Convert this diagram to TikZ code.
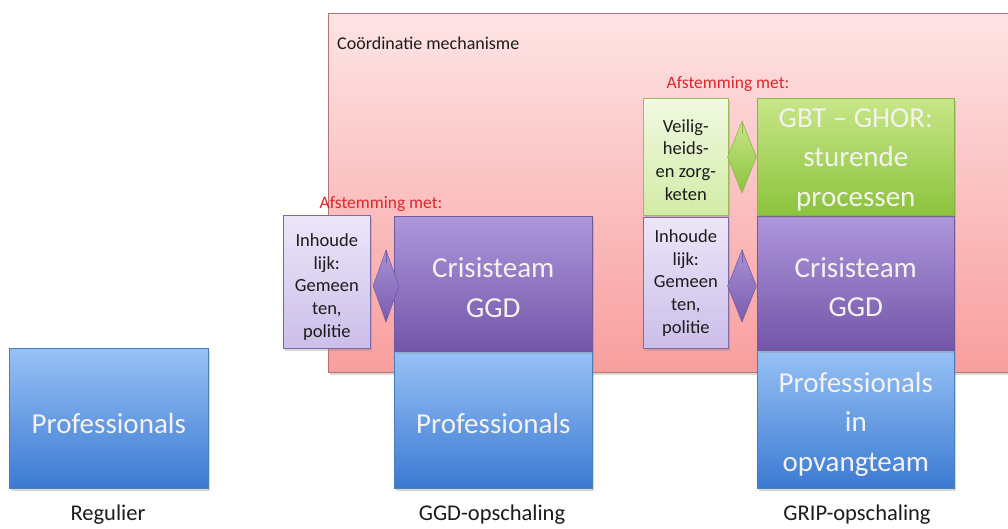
\documentclass[tikz,border=0pt]{standalone}
\usepackage{fontspec}
\setmainfont{Carlito}
\usetikzlibrary{shapes.geometric,shadows}

\definecolor{bluetop}{HTML}{98C1F5}
\definecolor{bluebot}{HTML}{3B7AD2}
\definecolor{blueline}{HTML}{4A7EBB}
\definecolor{purtop}{HTML}{AE97DC}
\definecolor{purbot}{HTML}{7355A8}
\definecolor{purline}{HTML}{6E5A9C}
\definecolor{grntop}{HTML}{C8E688}
\definecolor{grnbot}{HTML}{8BC33C}
\definecolor{grnline}{HTML}{8AB24A}
\definecolor{lavtop}{HTML}{ECE6F8}
\definecolor{lavbot}{HTML}{CBBEE9}
\definecolor{lavline}{HTML}{7F6AA8}
\definecolor{lgrtop}{HTML}{F1F9E2}
\definecolor{lgrbot}{HTML}{D2EBA6}
\definecolor{lgrline}{HTML}{9BBB59}
\definecolor{pinktop}{HTML}{FEE4E5}
\definecolor{pinkbot}{HTML}{F89E9E}
\definecolor{pinkline}{HTML}{B97272}
\definecolor{redtext}{HTML}{E0262A}
\definecolor{darktext}{HTML}{1C1C1C}
\definecolor{boxtext}{HTML}{F4F2EE}

\begin{document}
\begin{tikzpicture}[x=1pt,y=-1pt,
  shadowed/.style={drop shadow={opacity=0.3,shadow xshift=1.2pt,shadow yshift=-2.5pt}},
  bigbox/.style={draw,line width=0.6pt,anchor=north west,inner sep=0pt,shadowed},
  smallbox/.style={draw,line width=0.6pt,anchor=north west,inner sep=0pt,shadowed},
  bigtext/.style={align=center,inner sep=0pt,text=boxtext,font=\fontsize{29}{39.5}\selectfont},
  smalltext/.style={align=center,inner sep=0pt,text=darktext,font=\fontsize{18.5}{22.7}\selectfont},
  bluebox/.style={bigbox,draw=blueline,top color=bluetop,bottom color=bluebot},
  purplebox/.style={bigbox,draw=purline,top color=purtop,bottom color=purbot},
  greenbox/.style={bigbox,draw=grnline,top color=grntop,bottom color=grnbot},
  lavbox/.style={smallbox,draw=lavline,top color=lavtop,bottom color=lavbot},
  lgreenbox/.style={smallbox,draw=lgrline,top color=lgrtop,bottom color=lgrbot},
  link/.style={diamond,draw,line width=0.5pt,inner sep=0pt,minimum width=26pt,minimum height=72pt},
  purplelink/.style={link,draw=purline,top color=purtop!90!purbot,bottom color=purbot!90!purtop},
  greenlink/.style={link,draw=grnline,top color=grntop,bottom color=grnbot},
  tipline/.style={line width=0.5pt},
  redlabel/.style={anchor=base,text=redtext,font=\fontsize{17.5}{20}\selectfont,inner sep=0pt},
  phaselabel/.style={anchor=base,text=darktext,font=\fontsize{22.5}{26}\selectfont,inner sep=0pt}
]
\useasboundingbox (0,0) rectangle (1008,529);
\fill[white] (0,0) rectangle (1008,529);

% coordination area
\node[draw=pinkline,line width=0.7pt,top color=pinktop,bottom color=pinkbot,anchor=north west,
      minimum width=700pt,minimum height=359pt,inner sep=0pt,shadowed] (coord) at (328,13) {};
\node[anchor=base west,text=darktext,font=\fontsize{18}{22}\selectfont,inner sep=0pt] (coordtitle)
      at (337,50) {Coördinatie mechanisme};

% regular
\node[bluebox,minimum width=199pt,minimum height=140pt] (regpro) at (9,348) {};
\node[bigtext] (regprotxt) at ([yshift=-5pt]regpro.center) {Professionals};
\node[phaselabel] (reglab) at (108,520) {Regulier};

% GGD scale-up
\node[bluebox,minimum width=198pt,minimum height=137pt] (ggdpro) at (394,351) {};
\node[bigtext] (ggdprotxt) at ([yshift=-4pt]ggdpro.center) {Professionals};
\node[purplebox,minimum width=198pt,minimum height=135pt] (ggdcrisis) at (394,216) {};
\node[bigtext] (ggdcrisistxt) at ([yshift=-4pt]ggdcrisis.center) {Crisisteam\\GGD};
\node[lavbox,minimum width=87pt,minimum height=133pt] (ggdinh) at (283,215) {};
\node[smalltext] (ggdinhtxt) at ([yshift=-5pt]ggdinh.center) {Inhoude\\lijk:\\Gemeen\\ten,\\politie};
\node[purplelink] (ggdlink) at (386,286) {};
\draw[tipline,draw=purline] (ggdlink.north) -- ++(0,13);
\node[redlabel] (ggdafst) at (381,209) {Afstemming met:};
\node[phaselabel] (ggdlab) at (492,520) {GGD-opschaling};

% GRIP scale-up
\node[bluebox,minimum width=197pt,minimum height=138pt] (grippro) at (757,350) {};
\node[bigtext] (gripprotxt) at ([yshift=-5pt]grippro.center) {Professionals\\in\\opvangteam};
\node[purplebox,minimum width=197pt,minimum height=134pt] (gripcrisis) at (757,216) {};
\node[bigtext] (gripcrisistxt) at ([yshift=-4pt]gripcrisis.center) {Crisisteam\\GGD};
\node[greenbox,minimum width=197pt,minimum height=117pt] (gripgbt) at (757,98) {};
\node[bigtext] (gripgbttxt) at ([yshift=-3pt]gripgbt.center) {GBT – GHOR:\\sturende\\processen};
\node[lgreenbox,minimum width=85pt,minimum height=117pt] (gripveil) at (643,98) {};
\node[smalltext] (gripveiltxt) at ([yshift=-3pt]gripveil.center) {Veilig-\\heids-\\en zorg-\\keten};
\node[lavbox,minimum width=85pt,minimum height=131pt] (gripinh) at (643,217) {};
\node[smalltext] (gripinhtxt) at (gripinh.center) {Inhoude\\lijk:\\Gemeen\\ten,\\politie};
\node[greenlink,minimum width=29pt] (griplinkg) at (742,157) {};
\draw[tipline,draw=grnline] (griplinkg.north) -- ++(0,13);
\node[purplelink,minimum width=29pt] (griplinkp) at (742,286) {};
\draw[tipline,draw=purline] (griplinkp.north) -- ++(0,13);
\node[redlabel] (gripafst) at (728,89) {Afstemming met:};
\node[phaselabel] (griplab) at (857,520) {GRIP-opschaling};
\end{tikzpicture}
\end{document}
